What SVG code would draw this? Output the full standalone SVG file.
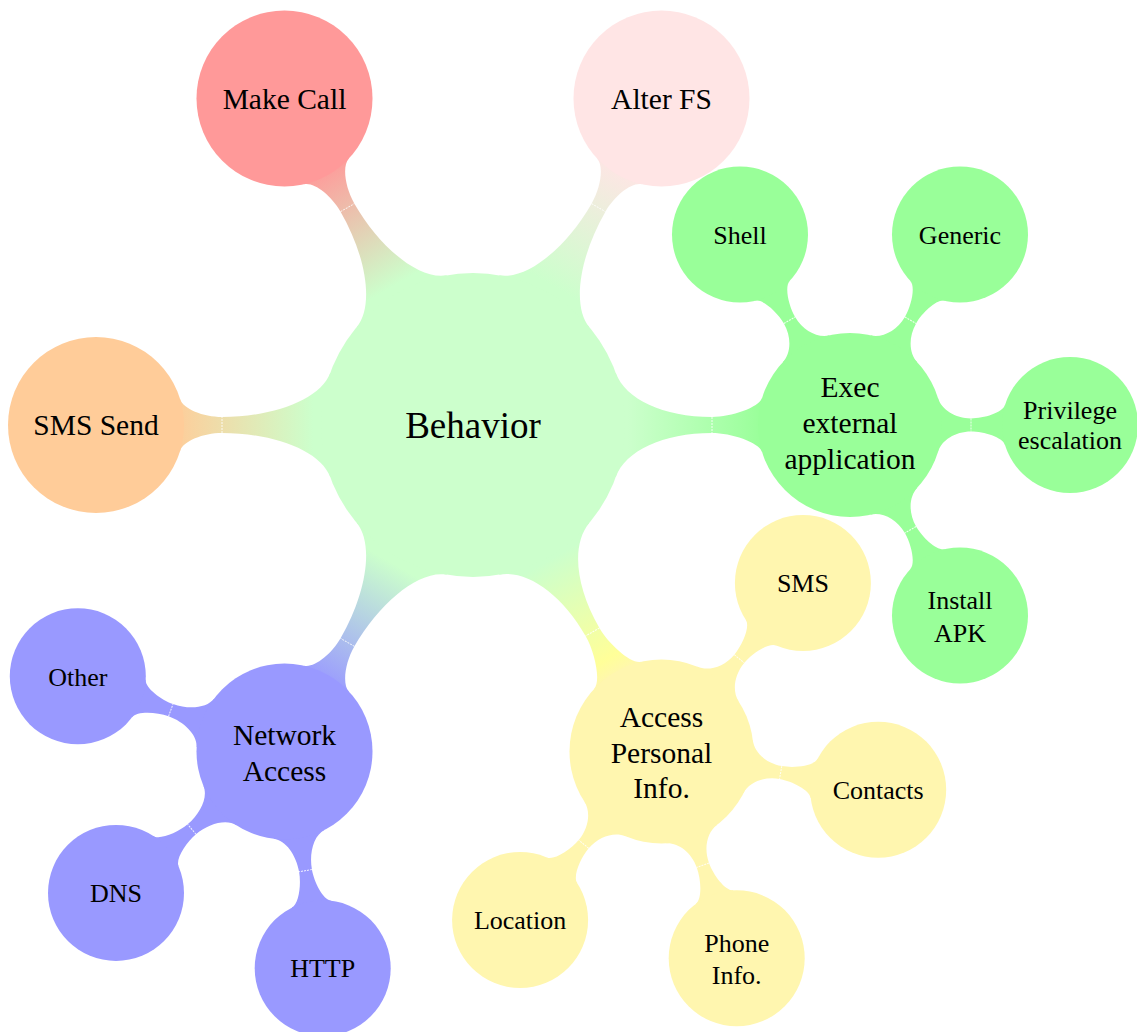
<svg xmlns="http://www.w3.org/2000/svg" xmlns:xlink="http://www.w3.org/1999/xlink" width="1137" height="1032" viewBox="0 0 1137 1032">
<style>
text{font-family:"Liberation Serif","Times New Roman",serif;fill:#000;text-anchor:middle;dominant-baseline:central}
.t0{font-size:37px}
.t1{font-size:29.5px}
.t2{font-size:26px}
.seam{stroke:#fff;stroke-width:1;stroke-dasharray:2 1;opacity:.85}
</style>
<defs>
<path id="L1a" d="M 142.83 -51.99 C 152.4 -25.7 200 -8 251 -8 C 270 -8 289.9 -16.2 292.85 -25.73 L 377 0 L 292.85 25.73 C 289.9 16.2 270 8 251 8 C 200 8 152.4 25.7 142.83 51.99 L 0 0 Z"/>
<path id="L1b" d="M 142.83 -51.99 C 152.4 -25.7 190 -8 239 -8 C 258 -8 286.1 -17.34 289.02 -26.90 L 377 0 L 289.02 26.90 C 286.1 17.34 258 8 239 8 C 190 8 152.4 25.7 142.83 51.99 L 0 0 Z"/>
<path id="L2a" d="M 87.98 -26.90 C 91.49 -15.42 105 -6.5 121 -6.5 C 134 -6.5 152.63 -12.23 154.97 -19.88 L 220 0 L 154.97 19.88 C 152.63 12.23 134 6.5 121 6.5 C 105 6.5 91.49 15.42 87.98 26.90 L 0 0 Z"/>
<path id="L2b" d="M 84.15 -25.73 C 87.66 -14.25 104 -6.5 121 -6.5 C 134 -6.5 152.63 -12.23 154.97 -19.88 L 220 0 L 154.97 19.88 C 152.63 12.23 134 6.5 121 6.5 C 104 6.5 87.66 14.25 84.15 25.73 L 0 0 Z"/>
<linearGradient id="gMC" gradientUnits="userSpaceOnUse" x1="160" y1="0" x2="300" y2="0"><stop offset="0" stop-color="#CCFFCC"/><stop offset="1" stop-color="#FF9999"/></linearGradient>
<linearGradient id="gAF" gradientUnits="userSpaceOnUse" x1="160" y1="0" x2="300" y2="0"><stop offset="0" stop-color="#CCFFCC"/><stop offset="1" stop-color="#FFE5E5"/></linearGradient>
<linearGradient id="gSS" gradientUnits="userSpaceOnUse" x1="160" y1="0" x2="300" y2="0"><stop offset="0" stop-color="#CCFFCC"/><stop offset="1" stop-color="#FFCC99"/></linearGradient>
<linearGradient id="gNA" gradientUnits="userSpaceOnUse" x1="160" y1="0" x2="300" y2="0"><stop offset="0" stop-color="#CCFFCC"/><stop offset="1" stop-color="#9999FF"/></linearGradient>
<linearGradient id="gEX" gradientUnits="userSpaceOnUse" x1="155" y1="0" x2="290" y2="0"><stop offset="0" stop-color="#CCFFCC"/><stop offset="1" stop-color="#99FF99"/></linearGradient>
<linearGradient id="gAP" gradientUnits="userSpaceOnUse" x1="155" y1="0" x2="290" y2="0"><stop offset="0" stop-color="#CCFFCC"/><stop offset="0.85" stop-color="#FFFF99"/><stop offset="1" stop-color="#FFF6AF"/></linearGradient>
</defs>

<g id="connectors">
  <g transform="translate(473 425) rotate(240)"><use href="#L1a" fill="url(#gMC)"/><line class="seam" x1="251" y1="-8" x2="251" y2="8"/></g>
  <g transform="translate(473 425) rotate(300)"><use href="#L1a" fill="url(#gAF)"/><line class="seam" x1="251" y1="-8" x2="251" y2="8"/></g>
  <g transform="translate(473 425) rotate(180)"><use href="#L1a" fill="url(#gSS)"/><line class="seam" x1="251" y1="-8" x2="251" y2="8"/></g>
  <g transform="translate(473 425) rotate(120)"><use href="#L1a" fill="url(#gNA)"/><line class="seam" x1="251" y1="-8" x2="251" y2="8"/></g>
  <g transform="translate(473 425)"><use href="#L1b" fill="url(#gEX)"/><line class="seam" x1="239" y1="-8" x2="239" y2="8"/></g>
  <g transform="translate(473 425) rotate(60)"><use href="#L1b" fill="url(#gAP)"/><line class="seam" x1="239" y1="-8" x2="239" y2="8"/></g>

  <g transform="translate(850 425) rotate(240)"><use href="#L2a" fill="#99FF99"/><line class="seam" x1="121" y1="-6.5" x2="121" y2="6.5"/></g>
  <g transform="translate(850 425) rotate(300)"><use href="#L2a" fill="#99FF99"/><line class="seam" x1="121" y1="-6.5" x2="121" y2="6.5"/></g>
  <g transform="translate(850 425)"><use href="#L2a" fill="#99FF99"/><line class="seam" x1="121" y1="-6.5" x2="121" y2="6.5"/></g>
  <g transform="translate(850 425) rotate(60)"><use href="#L2a" fill="#99FF99"/><line class="seam" x1="121" y1="-6.5" x2="121" y2="6.5"/></g>

  <g transform="translate(661.5 751.5) rotate(-50)"><use href="#L2a" fill="#FFF6AF"/><line class="seam" x1="121" y1="-6.5" x2="121" y2="6.5"/></g>
  <g transform="translate(661.5 751.5) rotate(10)"><use href="#L2a" fill="#FFF6AF"/><line class="seam" x1="121" y1="-6.5" x2="121" y2="6.5"/></g>
  <g transform="translate(661.5 751.5) rotate(70)"><use href="#L2a" fill="#FFF6AF"/><line class="seam" x1="121" y1="-6.5" x2="121" y2="6.5"/></g>
  <g transform="translate(661.5 751.5) rotate(130)"><use href="#L2a" fill="#FFF6AF"/><line class="seam" x1="121" y1="-6.5" x2="121" y2="6.5"/></g>

  <g transform="translate(284.5 751.5) rotate(200)"><use href="#L2b" fill="#9999FF"/><line class="seam" x1="121" y1="-6.5" x2="121" y2="6.5"/></g>
  <g transform="translate(284.5 751.5) rotate(140)"><use href="#L2b" fill="#9999FF"/><line class="seam" x1="121" y1="-6.5" x2="121" y2="6.5"/></g>
  <g transform="translate(284.5 751.5) rotate(80)"><use href="#L2b" fill="#9999FF"/><line class="seam" x1="121" y1="-6.5" x2="121" y2="6.5"/></g>
</g>

<g id="behavior"><circle cx="473" cy="425" r="152" fill="#CCFFCC"/><text class="t0" x="473" y="425">Behavior</text></g>

<g id="make-call"><circle cx="284.5" cy="98.5" r="88" fill="#FF9999"/><text class="t1" x="284.5" y="98.5">Make Call</text></g>
<g id="alter-fs"><circle cx="661.5" cy="98.5" r="88" fill="#FFE5E5"/><text class="t1" x="661.5" y="98.5">Alter FS</text></g>
<g id="sms-send"><circle cx="96" cy="425" r="88" fill="#FFCC99"/><text class="t1" x="96" y="425">SMS Send</text></g>
<g id="exec"><circle cx="850" cy="425" r="92" fill="#99FF99"/><text class="t1" x="850"><tspan x="850" y="387">Exec</tspan><tspan x="850" y="423">external</tspan><tspan x="850" y="459">application</tspan></text></g>
<g id="access"><circle cx="661.5" cy="751.5" r="92" fill="#FFF6AF"/><text class="t1" x="661.5"><tspan x="661.5" y="717">Access</tspan><tspan x="661.5" y="752.5">Personal</tspan><tspan x="661.5" y="788">Info.</tspan></text></g>
<g id="network"><circle cx="284.5" cy="751.5" r="88" fill="#9999FF"/><text class="t1" x="284.5"><tspan x="284.5" y="735">Network</tspan><tspan x="284.5" y="771">Access</tspan></text></g>

<g id="shell"><circle cx="740" cy="234.5" r="68" fill="#99FF99"/><text class="t2" x="740" y="235">Shell</text></g>
<g id="generic"><circle cx="960" cy="234.5" r="68" fill="#99FF99"/><text class="t2" x="960" y="235">Generic</text></g>
<g id="privilege"><circle cx="1070" cy="425" r="68" fill="#99FF99"/><text class="t2" x="1070"><tspan x="1070" y="410">Privilege</tspan><tspan x="1070" y="440">escalation</tspan></text></g>
<g id="install-apk"><circle cx="960" cy="615.5" r="68" fill="#99FF99"/><text class="t2" x="960"><tspan x="960" y="600">Install</tspan><tspan x="960" y="633">APK</tspan></text></g>

<g id="sms"><circle cx="802.9" cy="583" r="68" fill="#FFF6AF"/><text class="t2" x="802.9" y="583">SMS</text></g>
<g id="contacts"><circle cx="878.2" cy="789.7" r="68" fill="#FFF6AF"/><text class="t2" x="878.2" y="790">Contacts</text></g>
<g id="phone-info"><circle cx="736.7" cy="958.2" r="68" fill="#FFF6AF"/><text class="t2" x="736.7"><tspan x="736.7" y="943">Phone</tspan><tspan x="736.7" y="975">Info.</tspan></text></g>
<g id="location"><circle cx="520.1" cy="920" r="68" fill="#FFF6AF"/><text class="t2" x="520.1" y="920">Location</text></g>

<g id="other"><circle cx="77.8" cy="676.3" r="68" fill="#9999FF"/><text class="t2" x="77.8" y="677">Other</text></g>
<g id="dns"><circle cx="116" cy="892.9" r="68" fill="#9999FF"/><text class="t2" x="116" y="893">DNS</text></g>
<g id="http"><circle cx="322.7" cy="968.2" r="68" fill="#9999FF"/><text class="t2" x="322.7" y="968">HTTP</text></g>
</svg>
